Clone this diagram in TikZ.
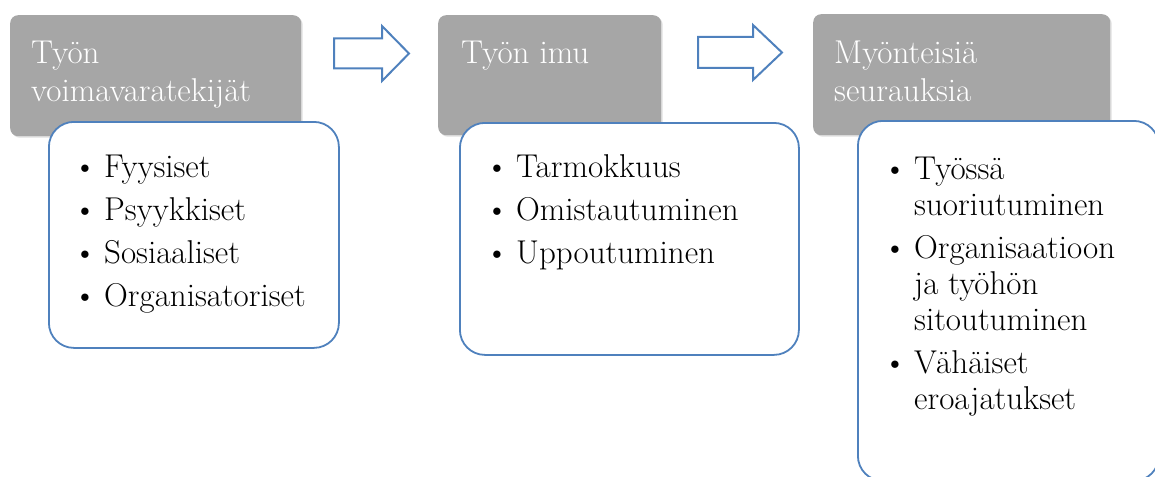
\documentclass[tikz,border=0pt]{standalone}
\usepackage{fontspec}
\usetikzlibrary{calc,shadows}
\definecolor{boxgray}{RGB}{166,166,166}
\definecolor{officeblue}{RGB}{79,129,189}
\tikzset{
  titlebox/.style={fill=boxgray, rounded corners=8pt, anchor=north west, inner sep=0pt,
    drop shadow={opacity=0.25, shadow xshift=1.5pt, shadow yshift=-1.5pt}},
  listbox/.style={draw=officeblue, line width=1.8pt, fill=white, rounded corners=25pt,
    anchor=north west, inner sep=0pt},
  flowarrow/.style={draw=officeblue, line width=2pt, fill=white, line join=miter},
  titletext/.style={anchor=north west, inner sep=0pt, text=white, font=\fontsize{33}{38}\selectfont},
  listtext/.style={anchor=north west, inner sep=0pt, font=\fontsize{33}{36}\selectfont}
}
\newcommand{\bul}{\makebox[31pt][l]{\textbullet}}
\newcommand{\ind}{\hspace*{31pt}}

\begin{document}
\begin{tikzpicture}[x=1pt,y=-1pt]
  \useasboundingbox (0,0) rectangle (1155,476);
  \clip (0,0) rectangle (1155,476);

  \node[titlebox, minimum width=291pt, minimum height=121pt] (t1) at (10,15) {};
  \node[titlebox, minimum width=223pt, minimum height=120pt] (t2) at (438,15) {};
  \node[titlebox, minimum width=297pt, minimum height=121pt] (t3) at (813,14) {};

  \node[titletext] (h1) at ($(t1.north west)+(21,21.4)$)
    {\begin{tabular}{@{}l@{}}Työn\\voimavaratekijät\end{tabular}};
  \node[titletext] (h2) at ($(t2.north west)+(23,21.4)$)
    {\begin{tabular}{@{}l@{}}Työn imu\end{tabular}};
  \node[titletext] (h3) at ($(t3.north west)+(21,22.4)$)
    {\begin{tabular}{@{}l@{}}Myönteisiä\\seurauksia\end{tabular}};

  \node[listbox, minimum width=290pt, minimum height=226pt] (w1) at (48,121) {};
  \node[listbox, minimum width=339pt, minimum height=232pt] (w2) at (459,122) {};
  \node[listbox, minimum width=301pt, minimum height=360pt] (w3) at (857,120) {};

  \node[listtext] (l1) at ($(w1.north west)+(25,31)$)
    {\begin{tabular}{@{}l@{}}
      \bul Fyysiset\\[7pt]
      \bul Psyykkiset\\[7pt]
      \bul Sosiaaliset\\[7pt]
      \bul Organisatoriset
    \end{tabular}};
  \node[listtext] (l2) at ($(w2.north west)+(26,30)$)
    {\begin{tabular}{@{}l@{}}
      \bul Tarmokkuus\\[7pt]
      \bul Omistautuminen\\[7pt]
      \bul Uppoutuminen
    \end{tabular}};
  \node[listtext] (l3) at ($(w3.north west)+(26,34)$)
    {\begin{tabular}{@{}l@{}}
      \bul Työssä\\
      \ind suoriutuminen\\[7pt]
      \bul Organisaatioon\\
      \ind ja työhön\\
      \ind sitoutuminen\\[7pt]
      \bul Vähäiset\\
      \ind eroajatukset
    \end{tabular}};

  \coordinate (a1) at (334,53.5);
  \coordinate (a2) at (698,52.5);
  \draw[flowarrow] (a1) ++(0,-15) -- ++(48,0) -- ++(0,-12.5) -- ++(27,27.5)
    -- ++(-27,27.5) -- ++(0,-12.5) -- ++(-48,0) -- cycle;
  \draw[flowarrow] (a2) ++(0,-15.5) -- ++(55,0) -- ++(0,-12) -- ++(29,27.5)
    -- ++(-29,27.5) -- ++(0,-12) -- ++(-55,0) -- cycle;
\end{tikzpicture}
\end{document}
